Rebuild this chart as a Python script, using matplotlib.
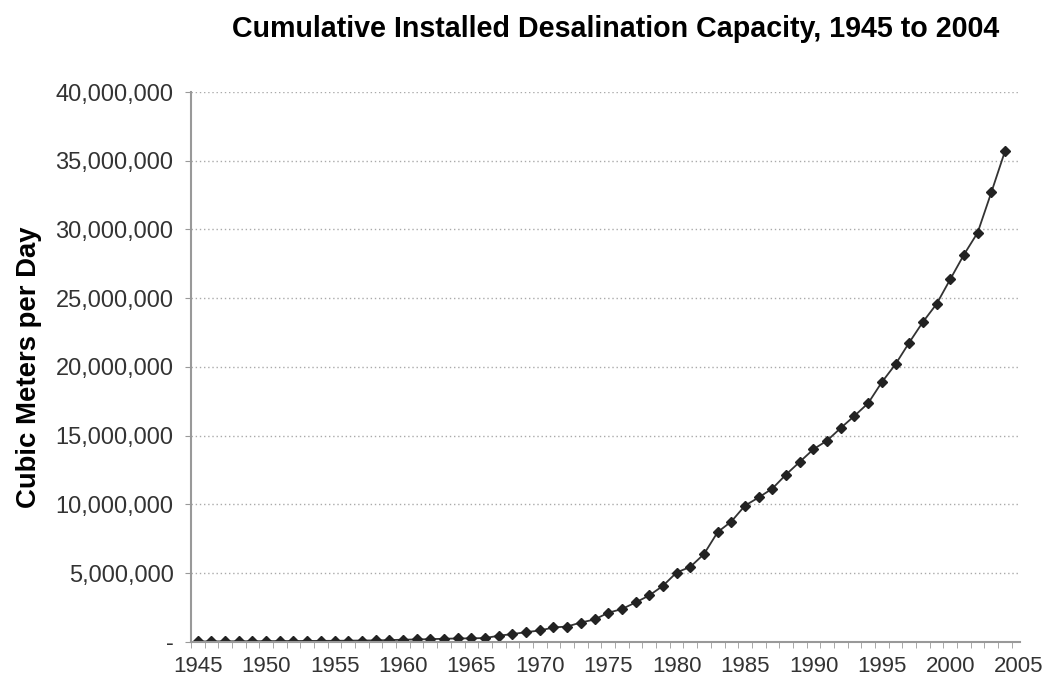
import matplotlib.pyplot as plt
from matplotlib.ticker import FuncFormatter, MultipleLocator, FixedLocator

plt.rcParams['font.family'] = ['Liberation Sans', 'DejaVu Sans']

# Годы и накопленная мощность опреснения (м3 в сутки)
years = list(range(1945, 2005))
capacity = [20000, 25000, 30000, 35000, 40000, 45000, 50000, 55000, 60000, 65000,
            70000, 80000, 90000, 100000, 120000, 150000, 170000, 190000, 220000, 240000,
            250000, 270000, 440000, 560000, 700000, 820000, 1040000, 1110000, 1400000, 1620000,
            2110000, 2380000, 2860000, 3370000, 4070000, 5040000, 5450000, 6380000, 7980000, 8750000,
            9910000, 10500000, 11150000, 12170000, 13090000, 14010000, 14640000, 15560000, 16440000, 17360000,
            18890000, 20200000, 21770000, 23270000, 24580000, 26380000, 28170000, 29770000, 32700000, 35700000]

yticks = list(range(0, 40000001, 5000000))

fig = plt.figure(figsize=(10.43, 6.82), dpi=100)
ax = fig.add_axes([0.183, 0.059, 0.795, 0.806])

ax.plot(years, capacity, color='#333333', linewidth=1.3,
        marker='D', markersize=5, markerfacecolor='#222222', markeredgecolor='#222222')

ax.set_xlim(1944.5, 2005.1)
ax.set_ylim(0, 40000000)
ax.set_yticks(yticks)
ax.yaxis.set_major_formatter(FuncFormatter(lambda v, p: '-' if v == 0 else f'{int(v):,}'))
ax.xaxis.set_major_locator(MultipleLocator(5))
# засечки между годами
ax.xaxis.set_minor_locator(FixedLocator([y + 0.5 for y in range(1944, 2005)]))

ax.grid(axis='y', linestyle=(0, (1, 2)), color='#aaaaaa', linewidth=1)
ax.set_axisbelow(True)

for s in ['top', 'right']:
    ax.spines[s].set_visible(False)
for s in ['left', 'bottom']:
    ax.spines[s].set_color('#999999')
    ax.spines[s].set_linewidth(1.5)

ax.tick_params(axis='both', which='major', labelsize=16, labelcolor='#333333',
               color='#999999', length=4.5, direction='out')
ax.tick_params(axis='x', which='major', length=0, pad=10)
ax.tick_params(axis='x', which='minor', color='#999999', length=4.5, direction='out')
ax.tick_params(axis='y', pad=8)
ax.tick_params(axis='y', labelsize=17)

ax.set_ylabel('Cubic Meters per Day', fontsize=19.8, fontweight='bold', labelpad=10)
fig.text(0.59, 0.957, 'Cumulative Installed Desalination Capacity, 1945 to 2004',
         fontsize=20.6, fontweight='bold', ha='center', va='center')

fig.savefig('out.png', dpi=100)
